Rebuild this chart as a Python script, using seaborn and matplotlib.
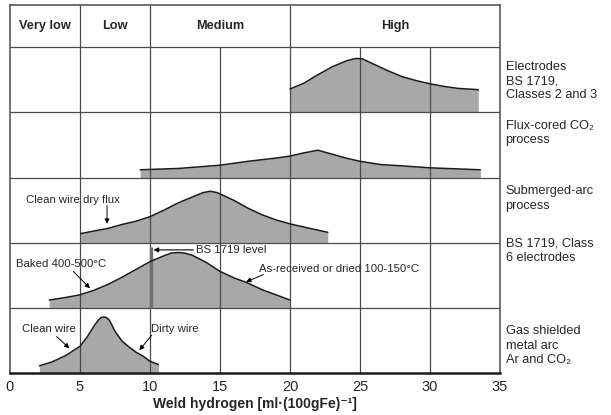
import numpy as np
import pandas as pd
import matplotlib
matplotlib.use("Agg")
import matplotlib.pyplot as plt
import seaborn as sns

# hydrogen bands shown in the header row
bands = ["Very low", "Low", "Medium", "High"]
band_edges = [0, 5, 10, 20, 35]

# process labels, top row first
processes = [
    "Electrodes\nBS 1719,\nClasses 2 and 3",
    "Flux-cored CO\u2082\nprocess",
    "Submerged-arc\nprocess",
    "BS 1719, Class\n6 electrodes",
    "Gas shielded\nmetal arc\nAr and CO\u2082",
]

# distribution outlines: weld hydrogen vs relative height inside the row
electrodes_x = [20, 21, 22, 23, 24, 24.5, 24.8, 25.2, 26, 27, 28, 29, 30, 31, 32, 33.45]
electrodes_h = [0.36, 0.45, 0.58, 0.70, 0.79, 0.82, 0.83, 0.82, 0.74, 0.64, 0.55, 0.49, 0.44, 0.40, 0.37, 0.35]

fluxcored_x = [9.3, 12, 15, 17, 19, 20, 21, 22, 23, 24, 25, 26.5, 28, 30, 33.6]
fluxcored_h = [0.12, 0.14, 0.19, 0.25, 0.30, 0.33, 0.38, 0.42, 0.36, 0.30, 0.25, 0.20, 0.18, 0.15, 0.12]

subarc_x = [5.05, 6, 7, 8, 9, 10, 11, 12, 13, 13.8, 14.3, 14.8, 16, 17, 18, 19, 20, 21, 22.7]
subarc_h = [0.14, 0.18, 0.22, 0.28, 0.33, 0.40, 0.50, 0.61, 0.70, 0.77, 0.79, 0.77, 0.65, 0.53, 0.43, 0.35, 0.29, 0.24, 0.16]

class6_x = [2.8, 4, 5, 6, 7, 8, 9, 10, 11, 11.5, 12, 12.5, 13, 14, 15, 16, 17, 18, 19, 20]
class6_h = [0.12, 0.16, 0.20, 0.27, 0.36, 0.47, 0.59, 0.71, 0.80, 0.84, 0.85, 0.84, 0.81, 0.70, 0.56, 0.46, 0.38, 0.28, 0.20, 0.12]

gasarc_x = [2.1, 3, 4, 5, 5.5, 6, 6.3, 6.5, 6.7, 6.9, 7.1, 7.5, 8, 8.5, 9, 9.5, 10, 10.6]
gasarc_h = [0.11, 0.17, 0.27, 0.41, 0.55, 0.72, 0.81, 0.85, 0.86, 0.85, 0.81, 0.64, 0.49, 0.40, 0.32, 0.26, 0.18, 0.13]

bs1719_level = 10.07

rows = [
    (electrodes_x, electrodes_h),
    (fluxcored_x, fluxcored_h),
    (subarc_x, subarc_h),
    (class6_x, class6_h),
    (gasarc_x, gasarc_h),
]
label_y = [4.48, 3.68, 2.68, 1.88, 0.42]

sns.set_style("white")
plt.rcParams["font.family"] = ["Liberation Sans", "DejaVu Sans"]

fig = plt.figure(figsize=(6.11, 4.15), dpi=100)
ax = fig.add_axes([10 / 611, 42 / 415, 490 / 611, 368 / 415])

n = len(rows)
header_h = 0.65
fill_col = "#a8a8a8"
grid_col = "#4a4a4a"

for i, (xs, hs) in enumerate(rows):
    base = n - 1 - i
    df = pd.DataFrame({"x": xs, "y": base + np.array(hs)})
    ax.fill_between(df["x"], base, df["y"], color=fill_col, lw=0, zorder=1)
    sns.lineplot(data=df, x="x", y="y", ax=ax, color="#1a1a1a", lw=1.1,
                 sort=False, estimator=None, zorder=4)
    ax.text(35.4, label_y[i], processes[i], fontsize=9.2, va="center", ha="left",
            linespacing=1.25, clip_on=False)

# grid
for x in range(5, 35, 5):
    ax.vlines(x, 0, n, color=grid_col, lw=0.9, zorder=2)
for y in range(1, n + 1):
    ax.hlines(y, 0, 35, color=grid_col, lw=0.9, zorder=2)
for x in band_edges[1:-1]:
    ax.vlines(x, n, n + header_h, color=grid_col, lw=0.9, zorder=2)

for name, a, b in zip(bands, band_edges[:-1], band_edges[1:]):
    ax.text((a + b) / 2, n + header_h / 2, name, ha="center", va="center",
            fontsize=9.2, fontweight="bold")

# BS 1719 level marker
ax.vlines(bs1719_level, 1, 1.94, color="#6e6e6e", lw=2.4, zorder=3)
ax.annotate("", xy=(10.25, 1.89), xytext=(13.1, 1.89),
            arrowprops=dict(arrowstyle="-|>", color="black", lw=0.8,
                            mutation_scale=7, shrinkA=0, shrinkB=0))
ax.text(13.3, 1.89, "BS 1719 level", fontsize=8.2, va="center", ha="left")

notes = [
    ("Clean wire dry flux", 4.46, 2.66, (6.93, 2.57), (6.93, 2.29)),
    ("Baked 400-500\u00b0C", 3.64, 1.68, (4.52, 1.56), (5.71, 1.30)),
    ("As-received or dried 100-150\u00b0C", 23.5, 1.60, (18.1, 1.51), (16.86, 1.40)),
    ("Clean wire", 2.81, 0.67, (3.33, 0.56), (4.24, 0.38)),
    ("Dirty wire", 11.8, 0.67, (10.12, 0.58), (9.24, 0.35)),
]
for label, tx, ty, start, end in notes:
    ax.text(tx, ty, label, fontsize=8.2, ha="center", va="center")
    ax.annotate("", xy=end, xytext=start,
                arrowprops=dict(arrowstyle="-|>", color="black", lw=0.7,
                                mutation_scale=7, shrinkA=0, shrinkB=0))

ax.set_xlim(0, 35)
ax.set_ylim(0, n + header_h)
ax.set_xticks(range(0, 36, 5))
ax.set_yticks([])
ax.tick_params(axis="x", length=0, pad=5, labelsize=10.5)
ax.set_xlabel("Weld hydrogen [ml\u00b7(100gFe)\u207b\u00b9]", fontsize=10,
              fontweight="bold", labelpad=2)
ax.set_ylabel("")
for s in ["left", "right", "top"]:
    ax.spines[s].set_color(grid_col)
    ax.spines[s].set_linewidth(1.1)
ax.spines["bottom"].set_color("#1a1a1a")
ax.spines["bottom"].set_linewidth(1.8)

fig.savefig("out.png", dpi=100)
